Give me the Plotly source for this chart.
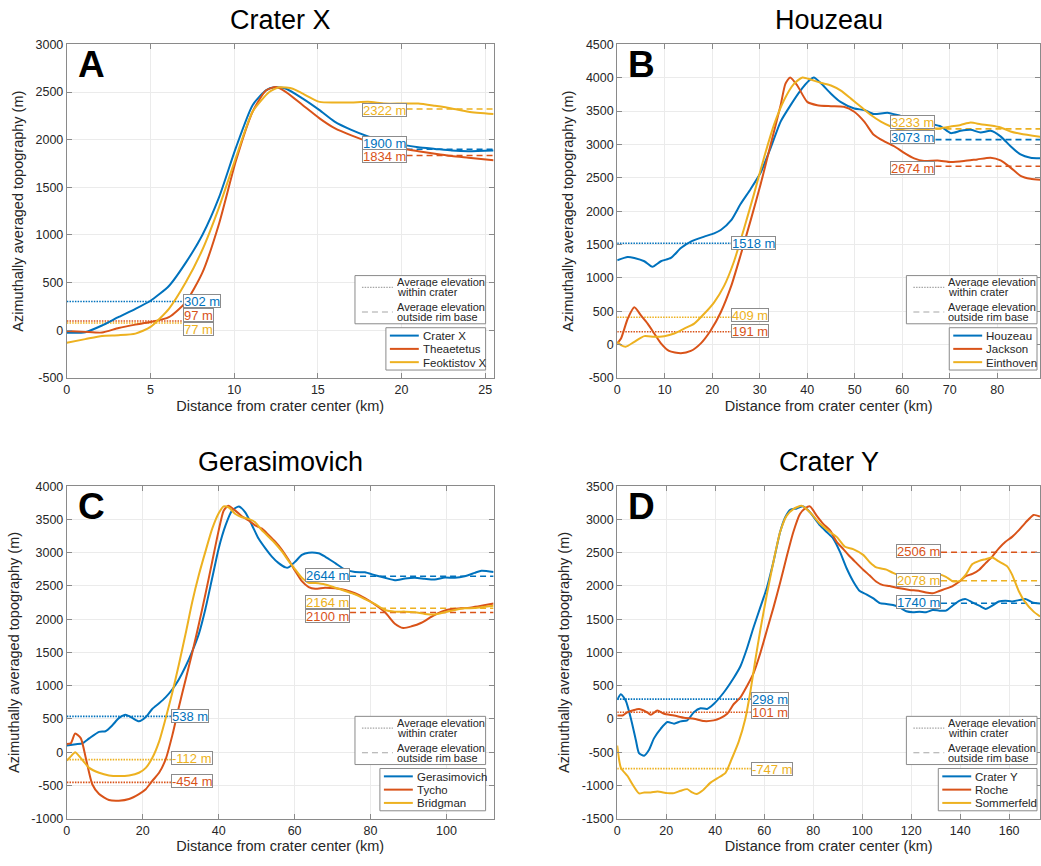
import plotly.graph_objects as go

BLUE = "#0072BD"
ORANGE = "#D95319"
YELLOW = "#EDB120"
COLORS = [BLUE, ORANGE, YELLOW]
FONT = "Liberation Sans, Arial, Helvetica, sans-serif"
FRAME = "#8a8a8a"
TEXT = "#262626"

# ---------------- Panel A: Crater X ----------------
a_names = ["Crater X", "Theaetetus", "Feoktistov X"]
a_x1 = [0, 1.1, 2.1, 3.1, 4.1, 5, 6.1, 7.1, 8.1, 9.1, 10.1, 11.1, 11.9, 12.4, 13.1, 14.1, 15.1, 16, 17, 18, 19, 20, 21, 22, 23, 24, 25.5]
a_y1 = [-25, -20, 50, 140, 225, 310, 465, 707, 1000, 1397, 1914, 2362, 2517, 2550, 2535, 2431, 2310, 2190, 2103, 2034, 1983, 1948, 1920, 1903, 1886, 1879, 1886]
a_x2 = [0, 1.1, 2.1, 3.1, 4.1, 5, 6.1, 7.1, 8.1, 9.1, 10.1, 11.1, 11.9, 12.5, 13.1, 14.1, 15.1, 16, 17, 18, 19, 20, 21, 22, 23, 24, 25.5]
a_y2 = [-7, -17, -24, 24, 59, 86, 138, 293, 604, 1121, 1776, 2293, 2517, 2552, 2500, 2362, 2224, 2121, 2045, 1983, 1948, 1907, 1879, 1852, 1828, 1810, 1783]
a_x3 = [0, 1.1, 2.1, 3.1, 4.1, 5, 6.1, 7.1, 8.1, 9.1, 10.1, 11.1, 12.1, 12.7, 13.5, 14.1, 15.1, 16, 17, 18, 19, 20, 21, 22, 23, 24, 25.5]
a_y3 = [-131, -93, -59, -52, -35, 35, 225, 500, 845, 1293, 1810, 2293, 2500, 2550, 2535, 2483, 2397, 2390, 2390, 2397, 2379, 2379, 2379, 2355, 2328, 2293, 2269]
a_inner = [302, 97, 77]
a_outer = [1900, 1834, 2322]
a_xticks = [0, 5, 10, 15, 20, 25]
a_yticks = [-500, 0, 500, 1000, 1500, 2000, 2500, 3000]

# ---------------- Panel B: Houzeau ----------------
b_names = ["Houzeau", "Jackson", "Einthoven"]
b_x1 = [0, 2.2, 3.6, 5.7, 7.4, 9.2, 11.3, 13.4, 15.5, 18.3, 20.4, 21.8, 24, 26, 28.1, 30.2, 32.3, 34.4, 36.5, 38.6, 40.4, 41.4, 42.8, 45, 47, 49.9, 52, 54, 56.9, 59.7, 61.8, 63.9, 66, 68.1, 70.2, 72.3, 74.4, 76.5, 78.6, 80.7, 82.8, 84.9, 87, 89.3]
b_y1 = [1264, 1313, 1298, 1249, 1165, 1249, 1298, 1446, 1544, 1618, 1667, 1717, 1864, 2111, 2333, 2579, 2948, 3342, 3589, 3810, 3958, 4005, 3924, 3761, 3638, 3539, 3515, 3456, 3475, 3426, 3392, 3352, 3308, 3269, 3170, 3204, 3219, 3180, 3204, 3121, 2973, 2850, 2801, 2791]
b_x2 = [0, 0.8, 2.2, 3.6, 5, 6.4, 7.8, 9.2, 10.9, 13.4, 15.5, 17.6, 19.7, 21.8, 24, 26, 28.1, 30.2, 32.3, 34.4, 35.4, 36.4, 37.9, 40, 42.1, 45, 47.7, 49.9, 52, 54, 56.2, 58.3, 60.4, 62.5, 64.6, 67.4, 70.2, 73, 75.8, 78.6, 80.7, 82.8, 84.9, 87, 89.3]
b_y2 = [17, 91, 387, 559, 436, 313, 165, 17, -96, -130, -96, 17, 214, 485, 879, 1347, 1865, 2406, 2998, 3589, 3909, 4005, 3884, 3638, 3589, 3574, 3564, 3490, 3342, 3145, 3047, 2973, 2874, 2791, 2751, 2761, 2736, 2751, 2776, 2801, 2761, 2653, 2530, 2485, 2470]
b_x3 = [0, 0.8, 1.8, 3.6, 5.7, 7.8, 9.9, 12, 14.1, 16.2, 18.3, 20.4, 22.5, 24.6, 26.7, 28.8, 30.9, 33, 35.1, 37.2, 39, 40.7, 42.8, 45, 47, 49.2, 51.3, 53.4, 55.5, 57.6, 59.7, 61.8, 63.9, 66, 68.1, 70.2, 72.3, 74.4, 76.5, 78.6, 80.7, 82.8, 84.9, 89.3]
b_y3 = [42, -7, -32, 42, 126, 116, 126, 165, 239, 313, 461, 633, 879, 1249, 1741, 2259, 2801, 3293, 3663, 3909, 4003, 3973, 3924, 3884, 3810, 3687, 3564, 3441, 3342, 3269, 3219, 3204, 3219, 3234, 3244, 3269, 3293, 3328, 3303, 3283, 3254, 3195, 3160, 3111]
b_inner = [1518, 191, 409]
b_outer = [3073, 2674, 3233]
b_xticks = [0, 10, 20, 30, 40, 50, 60, 70, 80]
b_yticks = [-500, 0, 500, 1000, 1500, 2000, 2500, 3000, 3500, 4000, 4500]

# ---------------- Panel C: Gerasimovich ----------------
c_names = ["Gerasimovich", "Tycho", "Bridgman"]
c_x1 = [0, 2.4, 4.1, 5.9, 8.5, 10.2, 12, 13.7, 15.5, 17.3, 19, 20.8, 22.5, 24.3, 26, 27.8, 29.5, 31.3, 33, 34.8, 36.5, 38.3, 40, 41.8, 43.5, 45.3, 47, 48.8, 50.5, 52.3, 54, 55.8, 57.6, 58.4, 60.2, 61.9, 63.7, 66.3, 68, 70.7, 73.3, 75.9, 78.5, 81.2, 83.8, 86.4, 89.1, 91.7, 94.3, 96.9, 99.6, 102.2, 104.8, 107.4, 109.2, 112.4]
c_y1 = [99, 118, 133, 207, 305, 315, 404, 512, 562, 512, 463, 527, 650, 734, 823, 946, 1094, 1291, 1512, 1783, 2153, 2621, 3064, 3409, 3631, 3695, 3606, 3409, 3212, 3064, 2941, 2842, 2778, 2778, 2867, 2966, 3000, 2990, 2941, 2842, 2744, 2709, 2704, 2660, 2621, 2586, 2611, 2621, 2606, 2596, 2626, 2621, 2645, 2695, 2729, 2709]
c_x2 = [0, 1.05, 2.2, 3.7, 5, 6.7, 8.5, 11.1, 13.7, 16.4, 19, 20.8, 22.5, 24.3, 26, 27.8, 29.5, 31.3, 33, 34.8, 36.5, 38.3, 40, 41.3, 42.5, 44.4, 46.1, 47.9, 49.6, 51.4, 53.2, 54.9, 56.7, 58.4, 60.2, 61.9, 63.7, 65.4, 68, 70.7, 73.3, 75.9, 78.5, 81.2, 83.8, 86.4, 88.6, 90.8, 93.4, 96.1, 98.7, 101.3, 103.9, 106.6, 109.2, 112.4]
c_y2 = [123, 133, 281, 207, -89, -483, -630, -719, -729, -704, -630, -557, -433, -310, -113, 256, 675, 1094, 1488, 1931, 2374, 2867, 3335, 3631, 3704, 3631, 3547, 3483, 3409, 3360, 3261, 3163, 3039, 2892, 2719, 2571, 2483, 2458, 2473, 2463, 2438, 2389, 2315, 2217, 2103, 1931, 1867, 1892, 1946, 2039, 2113, 2153, 2163, 2177, 2202, 2236]
c_x3 = [0, 1.05, 2.2, 3.7, 5.9, 8.5, 11.1, 13.7, 16.4, 19, 20.8, 22.5, 24.3, 26, 27.8, 29.5, 31.3, 33, 34.8, 36.5, 38.3, 40, 41.3, 42.6, 44.4, 46.1, 47.9, 49.6, 51.4, 53.2, 54.9, 56.7, 58.4, 60.2, 61.9, 63.7, 65.4, 68, 70.7, 73.3, 75.9, 78.5, 81.2, 83.8, 86.4, 89.1, 91.7, 94.3, 96.9, 99.6, 102.2, 104.8, 107.4, 110.1, 112.4]
c_y3 = [-128, -64, 0, -89, -236, -310, -350, -359, -350, -310, -236, -89, 158, 502, 897, 1315, 1783, 2251, 2670, 3015, 3360, 3591, 3695, 3680, 3581, 3532, 3507, 3458, 3335, 3236, 3138, 3015, 2877, 2744, 2621, 2547, 2542, 2522, 2473, 2424, 2374, 2301, 2227, 2138, 2113, 2113, 2103, 2079, 2069, 2103, 2138, 2163, 2167, 2187, 2202]
c_inner = [538, -454, -112]
c_outer = [2644, 2100, 2164]
c_xticks = [0, 20, 40, 60, 80, 100]
c_yticks = [-1000, -500, 0, 500, 1000, 1500, 2000, 2500, 3000, 3500, 4000]

# ---------------- Panel D: Crater Y ----------------
d_names = ["Crater Y", "Roche", "Sommerfeld"]
d_x1 = [0, 1.5, 3.5, 5.6, 7.6, 8.9, 11, 13, 15, 17.8, 20.5, 23.2, 25.9, 28.6, 31.3, 34, 36.7, 39.4, 43.5, 47.6, 50.3, 53, 55.7, 58.4, 61.1, 63.8, 66.5, 68.6, 70.6, 73.3, 76, 78.7, 82.8, 85.5, 88.2, 90.9, 93.6, 96.3, 99, 101.7, 104.4, 107.2, 109.9, 112.6, 115.3, 118, 120.7, 123.4, 126.1, 128.8, 131.5, 134.2, 136.9, 139.6, 142.3, 145, 147.8, 150.4, 153.1, 155.8, 158.5, 161.2, 163.9, 166.8, 169.5, 172.6]
d_y1 = [288, 372, 273, 3, -318, -515, -554, -465, -293, -145, -47, -71, -37, -22, 101, 160, 150, 224, 397, 618, 791, 1062, 1382, 1677, 1973, 2367, 2810, 3032, 3145, 3165, 3195, 3106, 2909, 2810, 2712, 2515, 2269, 2071, 1924, 1874, 1815, 1741, 1727, 1712, 1677, 1618, 1604, 1613, 1604, 1638, 1628, 1628, 1702, 1776, 1801, 1751, 1702, 1653, 1702, 1766, 1776, 1766, 1786, 1801, 1751, 1736]
d_x2 = [0, 2.2, 4.2, 6.2, 8.9, 11.7, 13.7, 16.4, 19.1, 23.2, 27.2, 31.3, 35.4, 39.4, 42.1, 44.9, 47.6, 50.3, 53, 55.7, 58.4, 61.1, 63.8, 66.5, 69.2, 71.9, 74.6, 76.7, 78.7, 81.4, 84.1, 86.9, 89.6, 92.3, 95, 97.7, 100.4, 103.1, 105.8, 108.5, 111.2, 115.3, 119.3, 123.4, 126.1, 128.8, 131.5, 134.2, 136.9, 139.6, 142.3, 145, 147.8, 150.4, 153.1, 155.8, 158.5, 161.2, 163.9, 166.6, 170, 172.6]
d_y2 = [52, 52, 101, 126, 150, 111, 62, 126, 77, 52, 18, 3, -32, -22, 12, 77, 224, 323, 495, 692, 988, 1333, 1677, 2047, 2441, 2810, 3081, 3165, 3195, 3057, 2933, 2835, 2663, 2554, 2441, 2342, 2244, 2155, 2062, 2012, 1998, 1963, 1939, 1924, 1899, 1889, 1924, 1958, 1998, 2062, 2146, 2180, 2244, 2342, 2441, 2564, 2663, 2737, 2835, 2948, 3067, 3042]
d_x3 = [0, 1.5, 4.2, 6.2, 8.9, 11, 13.7, 16.4, 20.5, 23.2, 25.9, 28.6, 30.6, 32.4, 34.7, 38.1, 40.8, 44.2, 46.9, 49.6, 52.3, 54.3, 56.4, 58.4, 61.1, 63.8, 66.5, 69.2, 71.9, 75.3, 78.7, 82.8, 86.9, 89.6, 93, 96.3, 100.4, 103.1, 105.8, 109.9, 112.6, 115.3, 118, 123.4, 128.8, 131.5, 134.2, 136.9, 139.6, 142.3, 145, 147.8, 150.4, 153.1, 155.8, 159.2, 161.2, 163.9, 166.6, 170, 172.6]
d_y3 = [-401, -736, -859, -983, -1120, -1106, -1106, -1091, -1116, -1116, -1081, -1056, -1106, -1130, -1081, -958, -894, -810, -588, -342, 3, 397, 889, 1333, 1874, 2367, 2810, 3057, 3155, 3204, 3106, 2933, 2810, 2737, 2589, 2554, 2466, 2357, 2278, 2244, 2195, 2155, 2146, 2146, 2146, 2170, 2136, 2071, 2071, 2170, 2328, 2377, 2401, 2426, 2367, 2293, 2170, 1924, 1751, 1613, 1540]
d_inner = [298, 101, -747]
d_outer = [1740, 2506, 2078]
d_xticks = [0, 20, 40, 60, 80, 100, 120, 140, 160]
d_yticks = [-1500, -1000, -500, 0, 500, 1000, 1500, 2000, 2500, 3000, 3500]

avg_legend_lines = [("Average elevation", "within crater"), ("Average elevation", "outside rim base")]

W, H = 1041, 866

panels = [
    dict(title="Crater X", letter="A", names=a_names,
         series=[(a_x1, a_y1), (a_x2, a_y2), (a_x3, a_y3)],
         inner=a_inner, outer=a_outer, xmax=25.5, yrange=(-500, 3000),
         xticks=a_xticks, yticks=a_yticks,
         inner_end=6.92, outer_start=20.3,
         inner_lab=[312, 162, 15], outer_lab=[1965, 1826, 2310],
         px=(64, 492), py=(38, 377), leg_right=8, avg_w=131, ser_w=100),
    dict(title="Houzeau", letter="B", names=b_names,
         series=[(b_x1, b_y1), (b_x2, b_y2), (b_x3, b_y3)],
         inner=b_inner, outer=b_outer, xmax=89, yrange=(-500, 4500),
         xticks=b_xticks, yticks=b_yticks,
         inner_end=24.0, outer_start=67.0,
         inner_lab=[1520, 200, 436], outer_lab=[3106, 2653, 3333],
         px=(616, 1040), py=(38, 377), leg_right=3, avg_w=131, ser_w=88),
    dict(title="Gerasimovich", letter="C", names=c_names,
         series=[(c_x1, c_y1), (c_x2, c_y2), (c_x3, c_y3)],
         inner=c_inner, outer=c_outer, xmax=112.4, yrange=(-1000, 4000),
         xticks=c_xticks, yticks=c_yticks,
         inner_end=27.4, outer_start=74.6,
         inner_lab=[537, -433, -88], outer_lab=[2670, 2054, 2261],
         px=(64, 492), py=(487, 825), leg_right=8, avg_w=131, ser_w=106),
    dict(title="Crater Y", letter="D", names=d_names,
         series=[(d_x1, d_y1), (d_x2, d_y2), (d_x3, d_y3)],
         inner=d_inner, outer=d_outer, xmax=172.6, yrange=(-1500, 3500),
         xticks=d_xticks, yticks=d_yticks,
         inner_end=54.5, outer_start=132.2,
         inner_lab=[298, 111, -746], outer_lab=[1751, 2525, 2096],
         px=(616, 1040), py=(487, 825), leg_right=3, avg_w=131, ser_w=99),
]


def px_x(v):
    return v / W


def px_y(v):
    return 1 - v / H


fig = go.Figure()
annotations = []
shapes = []
layout = {}

for i, p in enumerate(panels):
    k = "" if i == 0 else str(i + 1)
    xa, ya = "x" + k, "y" + k

    x0, x1 = p["px"]
    y0, y1 = p["py"]

    axis_common = dict(
        showline=True, mirror="ticks", linecolor=FRAME, linewidth=1,
        ticks="inside", ticklen=5, tickcolor=FRAME, tickwidth=1,
        showgrid=True, gridcolor="#ebebeb", gridwidth=1, zeroline=False,
        tickfont=dict(family=FONT, size=12.5, color=TEXT),
    )
    layout["xaxis" + k] = dict(
        axis_common, domain=[px_x(x0), px_x(x1)], anchor=ya, range=[0, p["xmax"]],
        tickvals=p["xticks"], ticktext=[str(v) for v in p["xticks"]],
        title=dict(text="Distance from crater center (km)",
                   font=dict(family=FONT, size=14.5, color=TEXT), standoff=4),
    )
    layout["yaxis" + k] = dict(
        axis_common, domain=[px_y(y1), px_y(y0)], anchor=xa, range=list(p["yrange"]),
        tickvals=p["yticks"], ticktext=[str(v) for v in p["yticks"]],
        title=dict(text="Azimuthally averaged topography (m)",
                   font=dict(family=FONT, size=14.5, color=TEXT), standoff=8),
    )

    # average-elevation reference lines
    for j, c in enumerate(COLORS):
        v = p["inner"][j]
        fig.add_trace(go.Scatter(
            x=[0, p["inner_end"]], y=[v, v], mode="lines", xaxis=xa, yaxis=ya,
            line=dict(color=c, width=1.6, dash="1.5px,1.2px"),
            showlegend=False, hoverinfo="skip"))
        v = p["outer"][j]
        fig.add_trace(go.Scatter(
            x=[p["outer_start"], p["xmax"]], y=[v, v], mode="lines", xaxis=xa, yaxis=ya,
            line=dict(color=c, width=1.6, dash="6px,4px"),
            showlegend=False, hoverinfo="skip"))

    # profiles
    for j, (sx, sy) in enumerate(p["series"]):
        fig.add_trace(go.Scatter(
            x=sx, y=sy, mode="lines", name=p["names"][j], xaxis=xa, yaxis=ya,
            line=dict(color=COLORS[j], width=2, shape="spline", smoothing=0.6),
            showlegend=False))

    # legend box for the reference-line styles
    r = x1 - p["leg_right"]
    al, at, ab = r - p["avg_w"], y1 - 104, y1 - 55
    shapes.append(dict(type="rect", xref="paper", yref="paper",
                       x0=px_x(al), x1=px_x(r), y0=px_y(ab), y1=px_y(at),
                       line=dict(color=FRAME, width=1), fillcolor="white", layer="above"))
    for n, (dash, lines) in enumerate(zip(["1.5px,1.2px", "6px,4px"], avg_legend_lines)):
        cy = at + 12 + n * 25
        shapes.append(dict(type="line", xref="paper", yref="paper",
                           x0=px_x(al + 7), x1=px_x(al + 38), y0=px_y(cy), y1=px_y(cy),
                           line=dict(color="#a6a6a6", width=1.2, dash=dash), layer="above"))
        for m, t in enumerate(lines):
            annotations.append(dict(
                x=px_x(al + 40), y=px_y(cy - 5 + 10 * m), xref="paper", yref="paper",
                xanchor="left", yanchor="middle", showarrow=False, text=t, height=10,
                font=dict(family=FONT, size=11, color=TEXT)))

    # legend box for the profiles
    sl, st, sb = r - p["ser_w"], y1 - 51, y1 - 8
    shapes.append(dict(type="rect", xref="paper", yref="paper",
                       x0=px_x(sl), x1=px_x(r), y0=px_y(sb), y1=px_y(st),
                       line=dict(color=FRAME, width=1), fillcolor="white", layer="above"))
    for j, c in enumerate(COLORS):
        cy = st + 8 + 13.5 * j
        shapes.append(dict(type="line", xref="paper", yref="paper",
                           x0=px_x(sl + 4), x1=px_x(sl + 33), y0=px_y(cy), y1=px_y(cy),
                           line=dict(color=c, width=2), layer="above"))
        annotations.append(dict(
            x=px_x(sl + 35), y=px_y(cy), xref="paper", yref="paper",
            xanchor="left", yanchor="middle", showarrow=False, text=p["names"][j],
            height=13, font=dict(family=FONT, size=11.5, color=TEXT)))

    # value labels
    for j, c in enumerate(COLORS):
        annotations.append(dict(
            x=p["inner_end"], y=p["inner_lab"][j], xref=xa, yref=ya,
            xanchor="left", yanchor="middle", showarrow=False, height=12,
            text=f"{p['inner'][j]} m", font=dict(family=FONT, size=13, color=c),
            bgcolor="white", bordercolor="#8c8c8c", borderwidth=1, borderpad=0))
        annotations.append(dict(
            x=p["outer_start"], y=p["outer_lab"][j], xref=xa, yref=ya,
            xanchor="right", yanchor="middle", showarrow=False, height=12,
            text=f"{p['outer'][j]} m", font=dict(family=FONT, size=13, color=c),
            bgcolor="white", bordercolor="#8c8c8c", borderwidth=1, borderpad=0))

    # panel title and letter
    annotations.append(dict(
        x=px_x((x0 + x1) / 2), y=px_y(y0 - 25), xref="paper", yref="paper",
        xanchor="center", yanchor="middle", showarrow=False,
        text=p["title"], font=dict(family=FONT, size=27, color="black")))
    annotations.append(dict(
        x=px_x(x0 + 9), y=px_y(y0 - 2), xref="paper", yref="paper",
        xanchor="left", yanchor="top", showarrow=False,
        text="<b>" + p["letter"] + "</b>", font=dict(family=FONT, size=37, color="black")))

fig.update_layout(
    width=W, height=H, margin=dict(l=0, r=0, t=0, b=0),
    paper_bgcolor="white", plot_bgcolor="white", showlegend=False,
    annotations=annotations, shapes=shapes, **layout,
)

fig.write_html("out.html")
